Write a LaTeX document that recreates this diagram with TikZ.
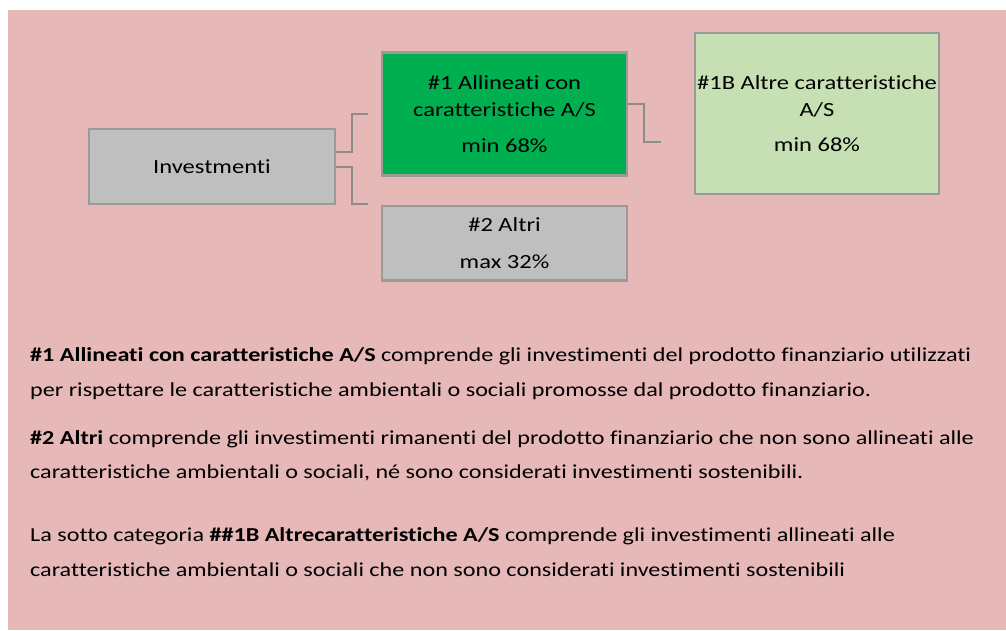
\documentclass[tikz,border=0pt]{standalone}
\usepackage{fontspec}
\setmainfont{Carlito}[FakeStretch=1.22, Ligatures=NoCommon]
\definecolor{pinkbg}{HTML}{E6B8B7}
\definecolor{greenbox}{HTML}{00B050}
\definecolor{lightgreen}{HTML}{C6E0B4}
\definecolor{greybox}{HTML}{BFBFBF}
\definecolor{boxline}{HTML}{9A9A9A}
\definecolor{connline}{HTML}{8C8C8C}
\begin{document}
\begin{tikzpicture}[x=1pt,y=-1pt,
  box/.style={draw=boxline, line width=2.5pt, inner sep=0pt, align=center,
    font=\fontsize{20.1}{27.5}\selectfont},
  conn/.style={draw=connline, line width=2pt},
  bodyline/.style={anchor=base west, inner sep=0pt, font=\fontsize{19.8}{24}\selectfont}]
\useasboundingbox (0,0) rectangle (1006,630);
\fill[white] (0,0) rectangle (1006,630);
\fill[pinkbg] (8,10) rectangle (1006,630);

\node[box, fill=greybox, minimum width=246pt, minimum height=75pt] (inv) at (212,166.5) {Investmenti};
\node[box, fill=greenbox, minimum width=245pt, minimum height=123pt] (green) at (504.5,114) {\#1 Allineati con\\caratteristiche A/S\\[8.5pt]min 68\%};
\node[box, fill=greybox, minimum width=245pt, minimum height=74.5pt] (altri) at (504.5,243) {\#2 Altri\\[10pt]max 32\%};
\node[box, fill=lightgreen, minimum width=244pt, minimum height=161pt] (light) at (817,113.5) {\#1B Altre caratteristiche\\A/S\\[7pt]min 68\%};

\coordinate (j1) at (368,114);
\coordinate (j2) at (368,204);
\coordinate (j3) at (661,142);
\draw[conn] ([yshift=15pt]inv.east) -- ++(16,0) |- (j1);
\draw[conn] (inv.east) -- ++(16,0) |- (j2);
\draw[conn] ([yshift=10pt]green.east) -- ++(16,0) |- (j3);

\node[bodyline] (t1) at (30,361) {\textbf{\#1 Allineati con caratteristiche A/S} comprende gli investimenti del prodotto finanziario utilizzati};
\node[bodyline] (t2) at (30,396) {per rispettare le caratteristiche ambientali o sociali promosse dal prodotto finanziario.};
\node[bodyline] (t3) at (30,444) {\textbf{\#2 Altri} comprende gli investimenti rimanenti del prodotto finanziario che non sono allineati alle};
\node[bodyline] (t4) at (30,478) {caratteristiche ambientali o sociali, né sono considerati investimenti sostenibili.};
\node[bodyline] (t5) at (30,541) {La sotto categoria \textbf{\#\#1B Altrecaratteristiche A/S} comprende gli investimenti allineati alle};
\node[bodyline] (t6) at (30,576) {caratteristiche ambientali o sociali che non sono considerati investimenti sostenibili};
\end{tikzpicture}
\end{document}
